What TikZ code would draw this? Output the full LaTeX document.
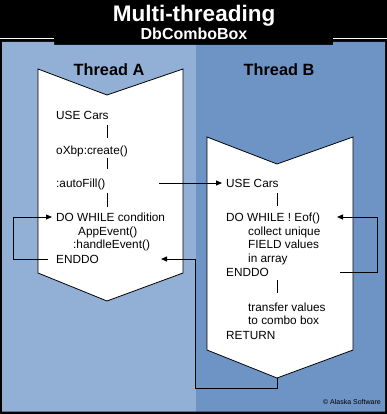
\documentclass[tikz,border=0pt]{standalone}
\usepackage{fontspec}
\setmainfont{Liberation Sans}
\usetikzlibrary{arrows.meta,calc}
\definecolor{lblue}{RGB}{146,175,213}
\definecolor{dblue}{RGB}{110,147,197}
\begin{document}
\begin{tikzpicture}[x=1pt,y=-1pt,
  txt/.style={anchor=west,inner sep=0pt,text height=9pt,text depth=0pt,font=\fontsize{11.8}{13.5}\selectfont},
  hdr/.style={anchor=base,inner sep=0pt,font=\fontsize{16.3}{18}\selectfont\bfseries},
  chev/.style={fill=white,draw=black,line width=0.8pt},
  conn/.style={draw=black,line width=0.8pt},
  arr/.style={conn,-{Triangle[length=6pt,width=5pt]}}]
\useasboundingbox (0,0) rectangle (387,414);
\fill[black] (0,0) rectangle (387,414);
% white lines beside the title tab
\draw[white,line width=1.3pt] (0,38.5) -- (54,38.5) (333,38.5) -- (387,38.5);
% panels
\fill[lblue] (2,42) -- (54,42) -- (54,45) -- (196,45) -- (196,411.5) -- (2,411.5) -- cycle;
\fill[dblue] (196,45) -- (333,45) -- (333,42) -- (385,42) -- (385,411.5) -- (196,411.5) -- cycle;
% titles
\node[anchor=base,inner sep=0pt,text=white,font=\fontsize{22.5}{24}\selectfont\bfseries] (title) at (194,21.7) {Multi-threading};
\node[anchor=base,inner sep=0pt,text=white,font=\fontsize{16}{18}\selectfont\bfseries] (sub) at (194,40) {DbComboBox};
\node[hdr] (hA) at (109,76) {Thread A};
\node[hdr] (hB) at (279,76) {Thread B};
% chevrons
\draw[chev] (38,69) -- (107,95) -- (183,69) -- (183,273) -- (107,301) -- (38,273) -- cycle;
\draw[chev] (207,137) -- (277,164) -- (353,137) -- (353,350) -- (277,378) -- (207,350) -- cycle;
\coordinate (axA) at (107,0);
\coordinate (axB) at (277,0);
\coordinate (Bbot) at (277,378);
% thread A text
\node[txt] (useA) at (56,115) {USE Cars};
\node[txt] (createA) at (56,150) {oXbp:create()};
\node[txt] (fillA) at (56,183) {:autoFill()};
\node[txt] (doA) at (56,217) {DO WHILE condition};
\node[txt] (appA) at (78,231) {AppEvent()};
\node[txt] (handA) at (73,244) {:handleEvent()};
\node[txt] (endA) at (56,259) {ENDDO};
% thread B text
\node[txt] (useB) at (226,183) {USE Cars};
\node[txt] (doB) at (226,217) {DO WHILE ! Eof()};
\node[txt] (colB) at (248,231) {collect unique};
\node[txt] (fldB) at (248,244) {FIELD values};
\node[txt] (arrB) at (248,258) {in array};
\node[txt] (endB) at (226,272) {ENDDO};
\node[txt] (trB) at (248,307) {transfer values};
\node[txt] (toB) at (248,320) {to combo box};
\node[txt] (retB) at (226,335) {RETURN};
% vertical links
\draw[conn] ([yshift=-5.5pt]useA.south -| axA) -- ([yshift=7.5pt]createA.north -| axA);
\draw[conn] ([yshift=-3.5pt]createA.south -| axA) -- ([yshift=9.5pt]fillA.north -| axA);
\draw[conn] ([yshift=-5.5pt]fillA.south -| axA) -- ([yshift=5.5pt]doA.north -| axA);
\draw[conn] ([yshift=-5.5pt]useB.south -| axB) -- ([yshift=6.5pt]doB.north -| axB);
\draw[conn] ([yshift=-3.5pt]endB.south -| axB) -- ([yshift=9.5pt]trB.north -| axB);
% loops and cross arrows
\draw[arr] ([xshift=-8pt]endA.west) -| (13,0 |- doA.west) -- ([xshift=-4pt]doA.west);
\draw[arr] (159,0 |- fillA.east) -- ([xshift=-4pt]useB.west);
\draw[arr] (340,0 |- endB.east) -| (377,0 |- doB.west) -- (337,0 |- doB.east);
\draw[arr] (Bbot) -- (277,388) -| (195,0 |- endA.east) -- (161,0 |- endA.east);
% copyright
\node[anchor=east,inner sep=0pt,text=black,font=\fontsize{7}{8}\selectfont] (copy) at (381,402) {© Alaska Software};
\end{tikzpicture}
\end{document}
